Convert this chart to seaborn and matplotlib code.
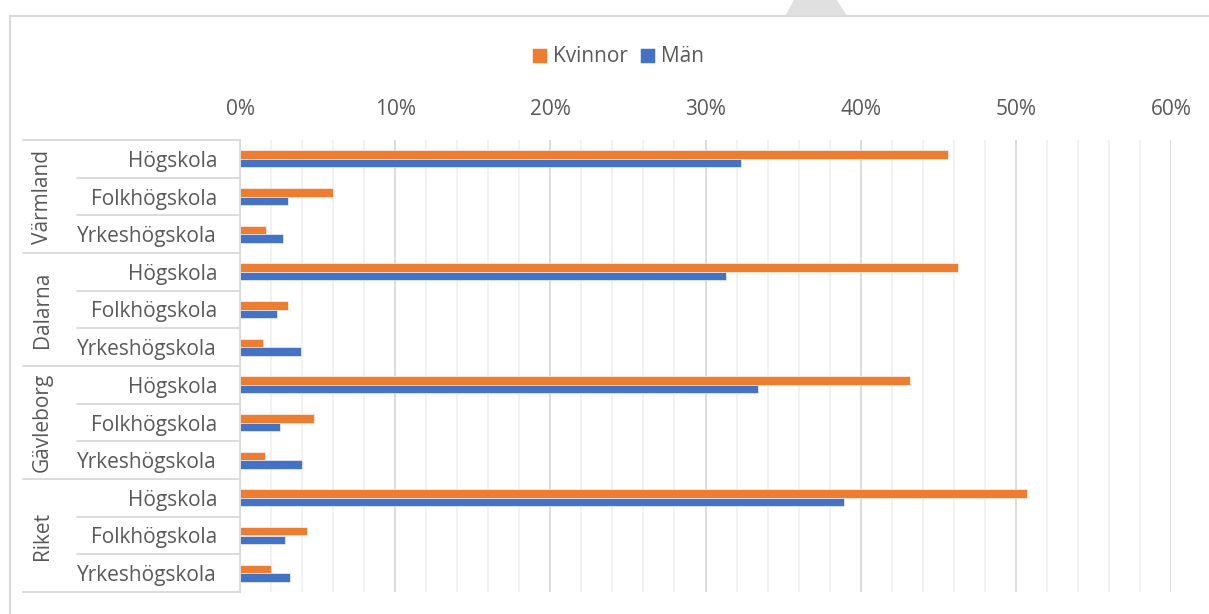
import numpy as np
import pandas as pd
import matplotlib.pyplot as plt
import seaborn as sns
from matplotlib.lines import Line2D
from matplotlib.patches import Polygon
from matplotlib.ticker import MultipleLocator, PercentFormatter

# data (share of population, fraction)
regions = ["Värmland", "Dalarna", "Gävleborg", "Riket"]
schools = ["Högskola", "Folkhögskola", "Yrkeshögskola"]
kvinnor = [0.456, 0.060, 0.017, 0.463, 0.031, 0.015, 0.432, 0.048, 0.016, 0.507, 0.043, 0.020]
man = [0.323, 0.031, 0.028, 0.313, 0.024, 0.039, 0.334, 0.026, 0.040, 0.389, 0.029, 0.032]
series = ["Kvinnor", "Män"]

orange = "#ED7D31"
blue = "#4472C4"
grey_txt = "#595959"
grid_major = "#D9D9D9"
grid_minor = "#F0F0F0"

# long format frame
keys = [f"{r} | {s}" for r in regions for s in schools]
df = pd.DataFrame({
    "key": keys * 2,
    "kon": [series[0]] * len(keys) + [series[1]] * len(keys),
    "andel": kvinnor + man,
})

sns.set_theme(style="white")
plt.rcParams["font.family"] = ["Open Sans", "DejaVu Sans"]
FS = 15

fig = plt.figure(figsize=(12.09, 6.14), dpi=100)
ax = fig.add_axes([240 / 1209, 1 - 592 / 614, 931 / 1209, 452 / 614])

sns.barplot(
    data=df, y="key", x="andel", hue="kon", orient="h",
    palette=[orange, blue], saturation=1, width=0.46, edgecolor="white", linewidth=0.4,
    ax=ax, legend=True,
)

ax.set_xlim(0, 0.6)
ax.set_ylim(11.5, -0.5)
ax.xaxis.tick_top()
ax.xaxis.set_major_locator(MultipleLocator(0.1))
ax.xaxis.set_minor_locator(MultipleLocator(0.02))
ax.xaxis.set_major_formatter(PercentFormatter(1.0, decimals=0))
ax.set_axisbelow(True)
ax.grid(which="major", axis="x", color=grid_major, lw=1.3)
ax.grid(which="minor", axis="x", color=grid_minor, lw=1.3)
ax.tick_params(which="both", length=0)
ax.tick_params(axis="x", pad=14.5, labelsize=FS, labelcolor=grey_txt)
ax.set_yticks(range(len(keys)))
ax.set_yticklabels(schools * len(regions))
ax.tick_params(axis="y", pad=16.5, labelsize=FS, labelcolor=grey_txt)
ax.set_xlabel("")
ax.set_ylabel("")

for side in ["top", "right", "bottom"]:
    ax.spines[side].set_visible(False)
ax.spines["left"].set_color(grid_major)
ax.spines["left"].set_linewidth(1.3)

# two-level category axis: separators and region labels
tr = ax.get_yaxis_transform()
x_inner = (77 - 240) / 931
x_outer = (23 - 240) / 931
n = len(schools)
for i in range(len(keys) + 1):
    y = i - 0.5
    x0 = x_outer if i % n == 0 else x_inner
    ax.plot([x0, 0], [y, y], transform=tr, color=grid_major, lw=1.3, clip_on=False)
for j, r in enumerate(regions):
    ax.text((42 - 240) / 931, j * n + (n - 1) / 2, r, transform=tr, rotation=90,
            ha="center", va="center", fontsize=FS, color=grey_txt)

# legend on top
handles, labels = ax.get_legend_handles_labels()
ax.legend(handles, labels, loc="center", bbox_to_anchor=(618 / 1209, 1 - 57 / 614),
          bbox_transform=fig.transFigure, ncol=2, frameon=False, fontsize=FS,
          handlelength=0.7, handleheight=0.7, handletextpad=0.3, columnspacing=0.6,
          labelcolor=grey_txt)

# chart frame and the grey pointer at the top
fig.add_artist(Line2D([10 / 1209, 1], [1 - 16 / 614, 1 - 16 / 614], transform=fig.transFigure,
                      color=grid_major, lw=1.5))
fig.add_artist(Line2D([10 / 1209, 10 / 1209], [0, 1 - 16 / 614], transform=fig.transFigure,
                      color=grid_major, lw=1.5))
fig.add_artist(Polygon([(785 / 1209, 1 - 16 / 614), (847 / 1209, 1 - 16 / 614),
                        (837 / 1209, 1), (794 / 1209, 1)], closed=True,
                       transform=fig.transFigure, color="#E0E0E0", lw=0))

fig.savefig("out.png", dpi=100)
